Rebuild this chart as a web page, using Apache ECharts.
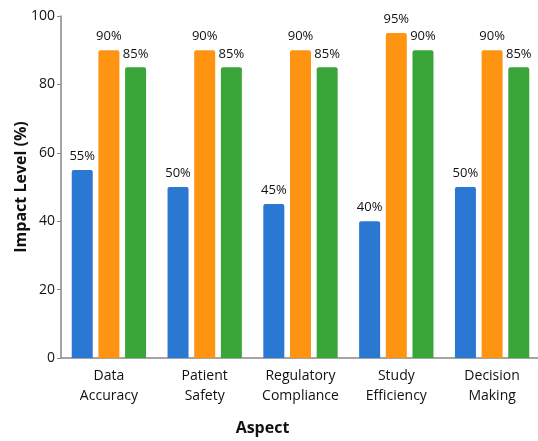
<!DOCTYPE html>
<html><head><meta charset="utf-8">
<script src="https://cdn.jsdelivr.net/npm/echarts@6/dist/echarts.min.js"></script>
<style>html,body{margin:0;padding:0;background:#fff}#c{width:538px;height:441px}</style>
</head><body><div id="c"></div>
<script>
var categories = ['Data\nAccuracy', 'Patient\nSafety', 'Regulatory\nCompliance', 'Study\nEfficiency', 'Decision\nMaking'];
var seriesA = [55, 50, 45, 40, 50];
var seriesB = [90, 90, 90, 95, 90];
var seriesC = [85, 85, 85, 90, 85];
var yTicks = [0, 20, 40, 60, 80, 100];

var font = "'Open Sans', 'Noto Sans', sans-serif";
var colors = ['#2a78d2', '#ff9312', '#3aa63a'];
function mk(name, data, color) {
  return {
    name: name, type: 'bar', data: data, barWidth: 21, barGap: '27%',
    itemStyle: { color: color, borderRadius: [2, 2, 0, 0] },
    label: { show: true, position: 'top', distance: 7, formatter: '{c}%', color: '#111', fontSize: 13, fontFamily: font }
  };
}
var chart = echarts.init(document.getElementById('c'), null, { renderer: 'canvas' });
chart.setOption({
  animation: false,
  backgroundColor: '#fff',
  grid: { left: 61, right: -2, top: 16, bottom: 83, containLabel: false, outerBoundsMode: 'none' },
  xAxis: {
    type: 'category', data: categories,
    name: 'Aspect', nameLocation: 'middle', nameGap: 62, nameMoveOverlap: false,
    nameTextStyle: { fontSize: 16, fontWeight: 'bold', color: '#111', fontFamily: font, padding: [0, 76, 0, 0] },
    axisLine: { lineStyle: { color: '#888', width: 1.5 } },
    axisTick: { show: false },
    axisLabel: { interval: 0, color: '#111', fontSize: 14, lineHeight: 20, margin: 8, fontFamily: font }
  },
  yAxis: {
    type: 'value', min: yTicks[0], max: yTicks[yTicks.length - 1], interval: 20,
    name: 'Impact Level (%)', nameLocation: 'middle', nameGap: 32, nameMoveOverlap: false,
    nameTextStyle: { fontSize: 16, fontWeight: 'bold', color: '#111', fontFamily: font },
    axisLine: { show: true, lineStyle: { color: '#888', width: 1.5 } },
    axisTick: { show: true, length: 4, lineStyle: { color: '#888' } },
    splitLine: { show: false },
    axisLabel: { color: '#111', fontSize: 14, margin: 6, fontFamily: font }
  },
  series: [mk('A', seriesA, colors[0]), mk('B', seriesB, colors[1]), mk('C', seriesC, colors[2])]
});
</script></body></html>
